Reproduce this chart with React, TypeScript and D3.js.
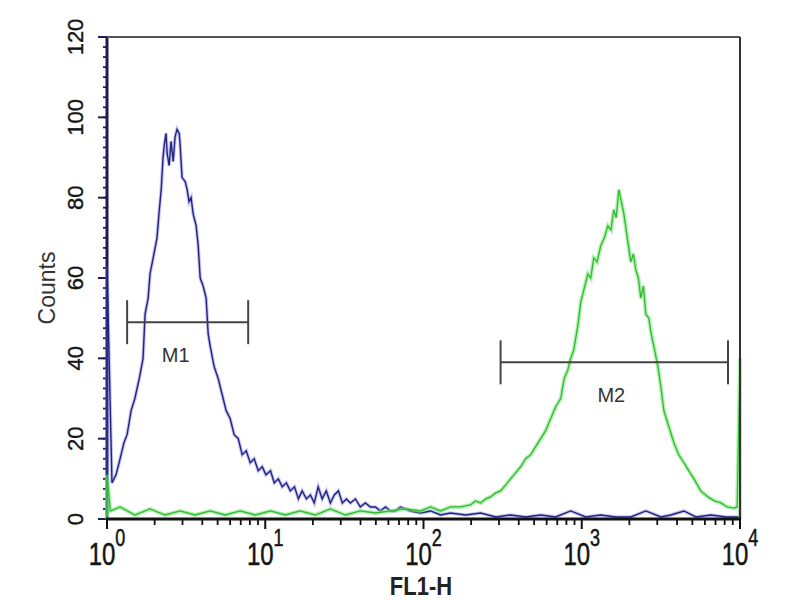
//@ts-nocheck
import * as d3 from "d3";
import { useEffect, useRef } from "react";

// blue histogram (control), FL1-H channel value vs counts
const blueFL = [1, 1, 1.075, 1.14, 1.21, 1.28, 1.34, 1.42, 1.50, 1.60,
  1.69, 1.74, 1.82, 1.87, 1.98, 2.07, 2.13, 2.20, 2.26, 2.30,
  2.36, 2.40, 2.47, 2.54, 2.62, 2.69, 2.77, 2.86, 2.90, 2.98,
  3.12, 3.21, 3.30, 3.40, 3.50, 3.66, 3.77, 3.88, 4.05, 4.23,
  4.36, 4.49, 4.75, 5.04, 5.34, 5.66, 6.00, 6.36, 6.75, 7.15,
  7.58, 8.04, 8.51, 9.03, 9.57, 10.1, 10.8, 11.4, 12.1, 12.8,
  13.6, 14.4, 15.3, 16.2, 17.1, 18.2, 19.3, 20.4, 21.6, 22.9,
  24.3, 25.8, 27.3, 29.0, 30.7, 32.6, 34.5, 37.1, 39.9, 42.9,
  46.2, 49.7, 53.4, 57.5, 61.8, 66.5, 71.5, 82.7, 95.7, 111,
  128, 148, 185, 230, 286, 355, 442, 550, 684, 851,
  1060, 1318, 1641, 2042, 2541, 3162, 3656, 4424, 5272, 6551,
  8153, 10000];
const blueCounts = [0, 63, 9, 11, 15, 19, 21, 27, 30, 35,
  40, 51, 55, 61, 66, 70, 76, 82, 90, 93,
  96, 91, 88, 94, 89, 95, 97, 96, 93, 85,
  84, 82, 79, 80, 76, 73, 68, 60, 58, 55,
  46, 43, 38, 35, 31, 27, 25, 21, 20, 16,
  17, 14, 15, 12, 13, 11, 12, 9, 10, 8,
  9, 7, 8, 5, 7, 5, 6, 4, 8, 5,
  7, 4, 6, 7, 4, 5, 4, 5, 3, 4,
  3, 3, 2, 3, 2, 2, 3, 2, 1.5, 2,
  1, 1.5, 1, 1.5, 0.5, 1, 0.5, 1, 0.5, 2,
  0.5, 1, 0.5, 0.5, 2, 0.5, 1, 2, 0.5, 1,
  0.5, 0.5];

// green histogram (stained)
const greenFL = [1, 1, 1.05, 1.21, 1.50, 1.87, 2.33, 2.90, 3.60, 4.49,
  5.58, 6.95, 8.65, 10.8, 13.4, 16.6, 20.7, 25.8, 32.1, 39.9,
  49.7, 61.8, 76.9, 95.7, 111, 128, 148, 171, 198, 213,
  230, 247, 265, 286, 307, 331, 355, 382, 411, 442,
  476, 511, 550, 592, 637, 686, 736, 775, 815, 852,
  889, 944, 986, 1030, 1092, 1140, 1191, 1250, 1318, 1390,
  1461, 1530, 1594, 1650, 1716, 1780, 1845, 1940, 2042, 2120,
  2197, 2280, 2362, 2450, 2541, 2655, 2750, 2856, 3027, 3160,
  3304, 3550, 3821, 4100, 4424, 4750, 5117, 5650, 6268, 6900,
  7580, 8300, 9163, 9600, 10000, 10000];
const greenCounts = [0, 11, 2, 3, 1, 2.5, 1, 2, 1, 2,
  1, 2, 1, 2, 1, 2, 1, 2.5, 1, 2,
  1.5, 2, 2.5, 2, 3, 2, 3, 3, 3.5, 4.5,
  4, 5, 5.5, 6.5, 7, 8.5, 10, 11.5, 13, 15,
  16, 18, 20, 22, 25, 28, 30, 35, 37, 40,
  42, 48, 54, 57, 61, 60, 65, 64, 68, 70,
  73, 72, 77, 75, 82, 79, 76, 70, 64, 66,
  62, 60, 55, 58, 51, 50, 46, 43, 38, 33,
  27, 23, 19, 16, 14, 12, 10, 7, 5.5, 4.5,
  4, 3, 2.7, 3, 40, 0];

// marker gates
const gateNames = ["M1", "M2"];
const gateLow = [1.34, 307];
const gateHigh = [7.8, 8400];
const gateLevel = [49, 39];

const yTicks = [0, 20, 40, 60, 80, 100, 120];
const xExponents = [0, 1, 2, 3, 4];
const xTitle = "FL1-H";
const yTitle = "Counts";

const App = () => {
  const ref = useRef(null);

  useEffect(() => {
    const svg = d3.select(ref.current);
    svg.selectAll("*").remove();
    const font = "'Liberation Sans', Arial, sans-serif";

    const x = d3.scaleLog().domain([1, 10000]).range([107, 740]);
    const y = d3.scaleLinear().domain([0, 120]).range([519, 37]);

    // y axis
    svg.append("line")
      .attr("x1", x(1)).attr("x2", x(1))
      .attr("y1", y(120) - 1).attr("y2", y(0) + 1)
      .attr("stroke", "#1c1c55").attr("stroke-width", 3);
    svg.selectAll(".yminor")
      .data(d3.range(0, 120.01, 2.5))
      .enter()
      .append("line")
      .attr("x1", x(1) - 4).attr("x2", x(1))
      .attr("y1", d => y(d)).attr("y2", d => y(d))
      .attr("stroke", "#1c1c55").attr("stroke-width", 1.8);
    svg.selectAll(".ymajor")
      .data(yTicks)
      .enter()
      .append("line")
      .attr("x1", x(1) - 9).attr("x2", x(1))
      .attr("y1", d => y(d)).attr("y2", d => y(d))
      .attr("stroke", "#1c1c55").attr("stroke-width", 2);
    svg.selectAll(".ylabel")
      .data(yTicks)
      .enter()
      .append("text")
      .attr("transform", d => "translate(83," + y(d) + ") rotate(-90)")
      .attr("text-anchor", "middle")
      .attr("font-family", font)
      .attr("font-size", 22)
      .attr("fill", "#151515")
      .attr("stroke", "#151515").attr("stroke-width", 0.4)
      .text(d => d);
    svg.append("text")
      .attr("transform", "translate(55,288) rotate(-90)")
      .attr("text-anchor", "middle")
      .attr("font-family", font)
      .attr("font-size", 23)
      .attr("fill", "#333")
      .text(yTitle);

    // x axis
    const minor = [];
    xExponents.slice(0, -1).forEach(e => {
      for (let k = 2; k < 10; k++) minor.push(k * Math.pow(10, e));
    });
    svg.selectAll(".xminor")
      .data(minor)
      .enter()
      .append("line")
      .attr("x1", d => x(d)).attr("x2", d => x(d))
      .attr("y1", y(0)).attr("y2", y(0) + 6)
      .attr("stroke", "#111").attr("stroke-width", 1.8);
    svg.selectAll(".xmajor")
      .data(xExponents)
      .enter()
      .append("line")
      .attr("x1", d => x(Math.pow(10, d))).attr("x2", d => x(Math.pow(10, d)))
      .attr("y1", y(0)).attr("y2", y(0) + 10)
      .attr("stroke", "#111").attr("stroke-width", 2);

    const xl = svg.selectAll(".xlabel")
      .data(xExponents)
      .enter()
      .append("g")
      .attr("transform", d => "translate(" + x(Math.pow(10, d)) + ",565) scale(1,1.3)")
      .append("text")
      .attr("text-anchor", "middle")
      .attr("font-family", font)
      .attr("fill", "#151515")
      .attr("stroke", "#151515").attr("stroke-width", 0.4);
    xl.append("tspan").attr("font-size", 24).text("10");
    xl.append("tspan").attr("font-size", 18).attr("dy", -15).text(d => d);

    svg.append("g")
      .attr("transform", "translate(421,595) scale(1,1.15)")
      .append("text")
      .attr("text-anchor", "middle")
      .attr("font-family", font)
      .attr("font-size", 22)
      .attr("font-weight", "bold")
      .attr("fill", "#222")
      .text(xTitle);

    // histograms
    const line = d3.line().x(d => x(d[0])).y(d => y(d[1]));
    const blue = d3.zip(blueFL, blueCounts);
    const green = d3.zip(greenFL, greenCounts);

    svg.append("path").attr("d", line(blue))
      .attr("fill", "none").attr("stroke", "#7c7ce6")
      .attr("stroke-opacity", 0.45).attr("stroke-width", 3.5);
    svg.append("path").attr("d", line(blue))
      .attr("fill", "none").attr("stroke", "#23237e")
      .attr("stroke-width", 1.4);

    svg.append("path").attr("d", line(green))
      .attr("fill", "none").attr("stroke", "#78ea78")
      .attr("stroke-opacity", 0.6).attr("stroke-width", 4);
    svg.append("path").attr("d", line(green))
      .attr("fill", "none").attr("stroke", "#36b836")
      .attr("stroke-width", 1.3);

    // frame top, right and bottom axis line over the data
    svg.append("line")
      .attr("x1", x(1)).attr("x2", x(10000))
      .attr("y1", y(120)).attr("y2", y(120))
      .attr("stroke", "#555").attr("stroke-width", 2.2);
    svg.append("line")
      .attr("x1", x(10000)).attr("x2", x(10000))
      .attr("y1", y(120)).attr("y2", y(0))
      .attr("stroke", "#333").attr("stroke-width", 2);
    svg.append("line")
      .attr("x1", x(1) - 1).attr("x2", x(10000) + 1)
      .attr("y1", y(0)).attr("y2", y(0))
      .attr("stroke", "#111").attr("stroke-width", 3);

    // markers
    gateNames.forEach((name, i) => {
      const g = svg.append("g").attr("stroke", "#444").attr("stroke-width", 2);
      g.append("line")
        .attr("x1", x(gateLow[i])).attr("x2", x(gateHigh[i]))
        .attr("y1", y(gateLevel[i])).attr("y2", y(gateLevel[i]));
      [gateLow[i], gateHigh[i]].forEach(v => {
        g.append("line")
          .attr("x1", x(v)).attr("x2", x(v))
          .attr("y1", y(gateLevel[i]) - 22).attr("y2", y(gateLevel[i]) + 22);
      });
      svg.append("text")
        .attr("x", (x(gateLow[i]) + x(gateHigh[i])) / 2 + (i === 0 ? -12 : -3))
        .attr("y", y(gateLevel[i]) + 40)
        .attr("text-anchor", "middle")
        .attr("font-family", font)
        .attr("font-size", 20)
        .attr("fill", "#333")
        .text(name);
    });
  }, []);

  return (
    <svg ref={ref} width={800} height={600}
      style={{ position: "absolute", left: 0, top: 0, background: "#fff" }} />
  );
};

export default App;
